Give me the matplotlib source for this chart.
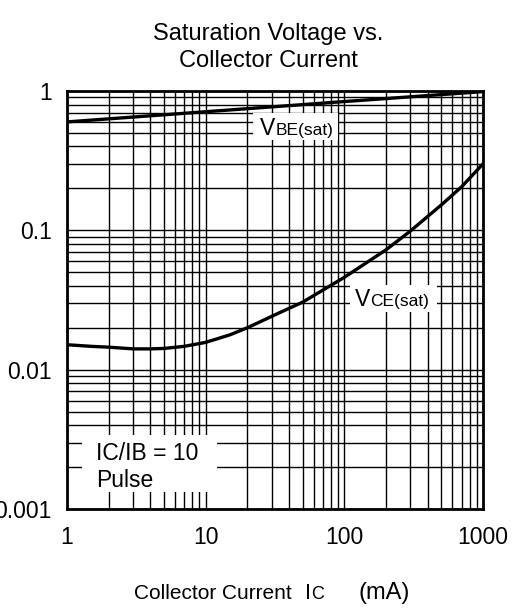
import matplotlib
matplotlib.use("Agg")
import matplotlib.pyplot as plt
from matplotlib.patches import Rectangle
from matplotlib.ticker import LogLocator, NullFormatter

plt.rcParams["font.family"] = ["Liberation Sans", "DejaVu Sans"]

# --- data --- #
ic_vbe = [1, 10, 100, 1000]
vbe_sat = [0.60, 0.71, 0.84, 0.99]

ic_vce = [1, 1.5, 2, 3, 4, 5, 7, 10, 15, 20, 34, 50, 100, 200, 300, 500, 700, 1000]
vce_sat = [0.0151, 0.0147, 0.0145, 0.0141, 0.0141, 0.0142, 0.0147, 0.0157, 0.0178,
           0.0200, 0.0256, 0.0305, 0.046, 0.0725, 0.099, 0.152, 0.205, 0.30]

x_ticks = [1, 10, 100, 1000]
x_labels = ["1", "10", "100", "1000"]
y_ticks = [0.001, 0.01, 0.1, 1]
y_labels = ["0.001", "0.01", "0.1", "1"]

W, H = 523, 611
fig = plt.figure(figsize=(W / 100, H / 100), dpi=100)
ax = fig.add_axes([67 / W, 1 - 509 / H, 416 / W, 418 / H])


def rich(x, y, pieces, transform, zorder=5):
    """draw text pieces of different size one after another on a common baseline"""
    renderer = fig.canvas.get_renderer()
    x_disp, y_disp = transform.transform((x, y))
    inv = transform.inverted()
    for s, size in pieces:
        xx, yy = inv.transform((x_disp, y_disp))
        t = fig.text(xx, yy, s, fontsize=size, transform=transform, va="baseline",
                     ha="left", zorder=zorder)
        x_disp += t.get_window_extent(renderer).width


ax.plot(ic_vbe, vbe_sat, color="black", lw=2.4, zorder=3)
ax.plot(ic_vce, vce_sat, color="black", lw=2.4, zorder=3)

ax.set_xscale("log")
ax.set_yscale("log")
ax.set_xlim(1, 1000)
ax.set_ylim(0.001, 1)
ax.set_xticks(x_ticks, x_labels)
ax.set_yticks(y_ticks, y_labels)
ax.xaxis.set_minor_locator(LogLocator(base=10, subs=range(2, 10)))
ax.yaxis.set_minor_locator(LogLocator(base=10, subs=range(2, 10)))
ax.xaxis.set_minor_formatter(NullFormatter())
ax.yaxis.set_minor_formatter(NullFormatter())
ax.tick_params(which="both", length=0, labelsize=16.5)
ax.tick_params(axis="x", pad=12)
ax.tick_params(axis="y", pad=11)
ax.grid(which="both", color="black", lw=1.0, zorder=1)
for sp in ax.spines.values():
    sp.set_linewidth(2)

# white boxes behind the labels
for (x0, y0, w, h) in [(0.447, 0.883, 0.204, 0.064),
                       (0.680, 0.471, 0.209, 0.065),
                       (0.036, 0.041, 0.325, 0.136)]:
    ax.add_patch(Rectangle((x0, y0), w, h, transform=ax.transAxes,
                           facecolor="white", edgecolor="none", zorder=2))

rich(0.464, 0.895, [("V", 16.5), ("BE(sat)", 12.5)], ax.transAxes)
rich(0.692, 0.486, [("V", 16.5), ("CE(sat)", 12.5)], ax.transAxes)
ax.text(0.0697, 0.117, "IC/IB = 10", fontsize=16.5, transform=ax.transAxes,
        va="baseline", zorder=5)
ax.text(0.0697, 0.053, "Pulse", fontsize=16.5, transform=ax.transAxes,
        va="baseline", zorder=5)

fig.text(268 / W, 1 - 40 / H, "Saturation Voltage vs.", fontsize=17,
         ha="center", va="baseline")
fig.text(268 / W, 1 - 67 / H, "Collector Current", fontsize=17,
         ha="center", va="baseline")

# x axis label, pieces spread like the reference
base = 1 - 599 / H
fig.text(134 / W, base, "Collector Current", fontsize=15, va="baseline")
rich(305 / W, base, [("I", 15.5), ("C", 13)], fig.transFigure)
fig.text(358 / W, base, "(mA)", fontsize=17, va="baseline")

fig.savefig("out.png", dpi=100)
